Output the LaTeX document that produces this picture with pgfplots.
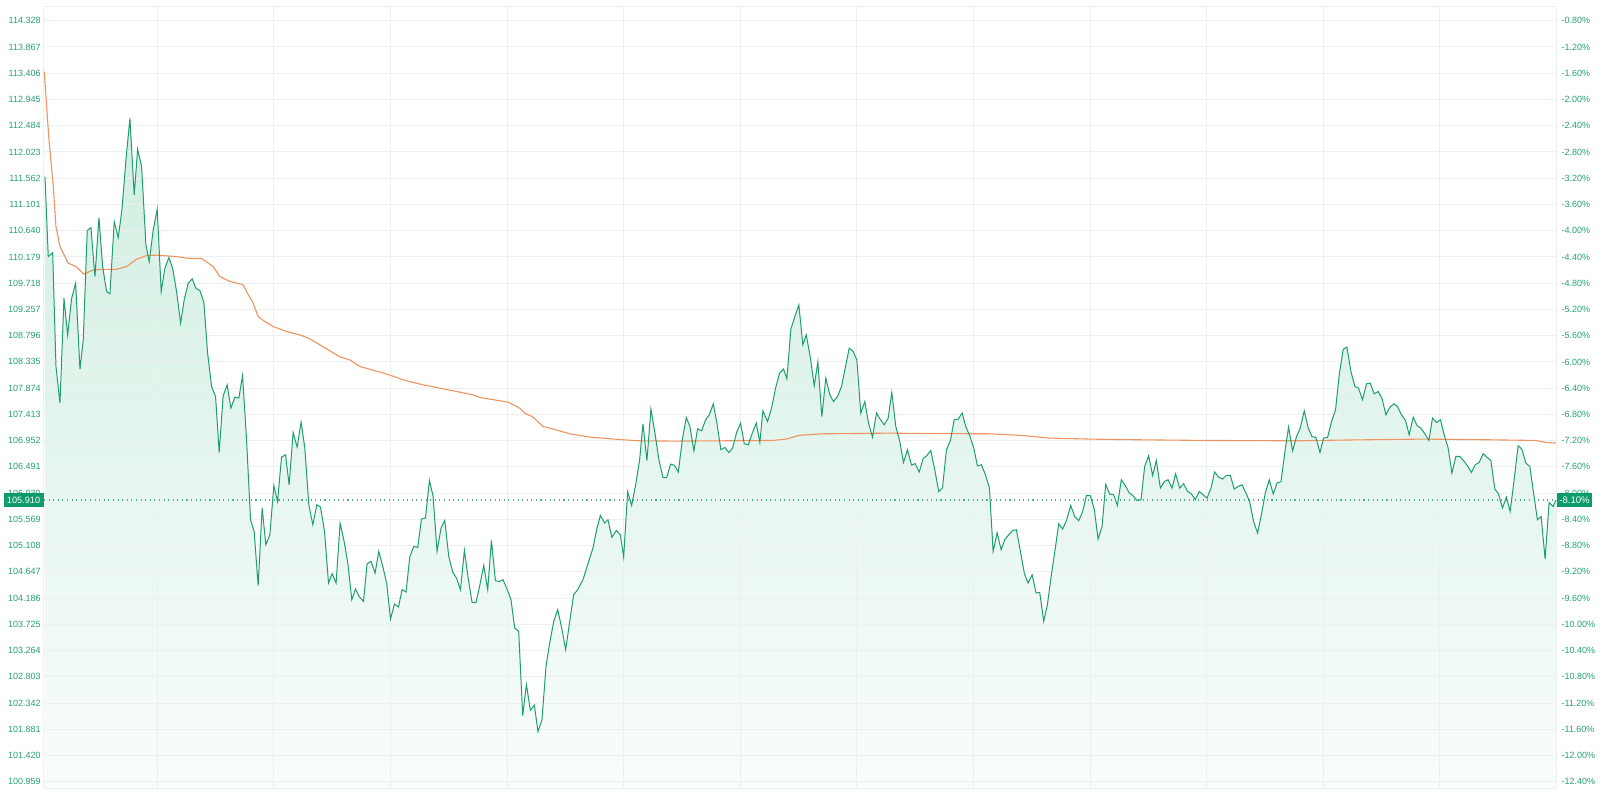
\documentclass[border=0pt]{standalone}
\usepackage{fontspec}
\setmainfont{Liberation Sans}
\usepackage{pgfplots}
\pgfplotsset{compat=1.18}
\usepackage{pgfplotstable}
\definecolor{lineg}{RGB}{30,158,110}
\definecolor{labg}{RGB}{38,160,118}
\definecolor{dotg}{RGB}{80,175,140}
\definecolor{boxg}{RGB}{12,155,105}
\definecolor{orng}{RGB}{238,148,98}
\definecolor{gridc}{RGB}{236,240,238}
\definecolor{filltop}{RGB}{208,238,224}
\definecolor{fillbot}{RGB}{249,253,251}

\pgfplotstableread{
x y
45 111.589
48.3 110.185
52.7 110.255
56 108.254
60 107.611
64 109.454
67.7 108.810
71.7 109.454
75.7 109.718
80 108.208
83.3 108.722
87.3 110.641
91 110.694
95 109.834
99 110.869
102.7 110.009
106.7 109.570
110 109.530
114.3 110.799
118.3 110.518
122 111.004
126 111.882
130 112.614
134.3 111.268
137.7 112.070
141.7 111.765
146 110.390
149.3 110.097
153.3 110.653
157.3 111.017
161.3 109.570
165 109.981
169 110.167
172.7 109.981
176.7 109.570
180.7 109.016
184.3 109.425
188.3 109.718
192.3 109.793
196 109.630
200 109.588
204 109.384
207.7 108.489
211.7 107.903
215.7 107.727
219.3 106.744
223.3 107.740
227.3 107.932
231 107.523
235 107.717
239 107.700
242.7 108.096
246.7 106.967
250.7 105.562
254.3 105.357
258.3 104.404
262.3 105.768
266 105.124
270 105.299
274 106.159
277.7 105.884
281.7 106.663
285.7 106.704
289.3 106.177
293.3 107.095
297.3 106.839
301.3 107.278
305 106.821
309 105.826
313 105.475
317 105.826
320.7 105.785
324.7 105.357
328.7 104.451
332.3 104.615
336.3 104.451
340.3 105.504
344 105.211
348 104.802
352 104.158
355.7 104.346
359.7 104.205
363.7 104.128
367.3 104.790
371.3 104.830
375.3 104.627
379 105.006
383 104.743
387 104.439
390.7 103.819
394.7 104.083
398.7 104.030
402.3 104.334
406.3 104.293
410 104.908
414 105.094
418 105.076
421.7 105.575
425.7 105.592
429.7 106.252
433.3 105.979
437.3 105.006
441.3 105.417
445 105.550
449 104.918
453 104.644
456.7 104.539
460.7 104.334
464.7 105.024
468.3 104.557
472.3 104.111
476.3 104.111
480 104.404
484 104.760
488 104.334
491.7 105.199
495.7 104.492
499.7 104.479
503.3 104.509
507.3 104.346
511.3 104.158
515 103.661
519 103.602
523 102.122
526.7 102.666
530.7 102.215
534.7 102.303
538.3 101.840
542.3 102.051
546.3 102.987
550 103.398
554 103.772
558 103.982
562 103.666
566 103.280
570 103.772
574 104.246
578 104.334
583.3 104.509
588 104.772
593.3 105.066
597 105.387
600.7 105.638
605 105.504
608.3 105.562
612.3 105.252
616.7 105.375
620.7 105.299
624 104.908
628 106.054
632 105.813
636 106.177
640 106.616
643.3 107.248
647.3 106.603
651.3 107.506
655.3 107.084
659.3 106.616
663.3 106.305
667 106.302
671 106.540
675 106.516
678.7 106.400
682.7 106.967
686.7 107.358
690.3 107.200
694.3 106.774
698 107.160
702 107.125
706 107.318
709.7 107.406
713.7 107.599
717.3 107.260
721.3 106.792
725.3 106.833
729.3 106.744
733 106.821
737 107.095
741 107.260
744.7 106.897
748.7 106.879
752.7 107.084
756.7 107.260
760.3 106.919
763.3 107.476
768 107.288
772 107.523
776 107.874
780 108.138
784 108.208
787.3 108.038
791.3 108.910
795.3 109.131
799.3 109.337
803.3 108.635
806.7 108.810
810.7 108.424
814.7 107.915
818.3 108.336
822.3 107.376
826.3 108.050
830.3 107.757
834 107.639
838 107.727
842 107.903
845.7 108.226
849.7 108.577
853.7 108.517
857.3 108.371
861.3 107.436
865.3 107.639
869 107.260
873 107.014
877 107.436
880.7 107.330
884.7 107.230
888.7 107.348
892.3 107.798
896.3 107.200
900.3 106.937
904 106.568
908 106.792
912 106.524
915.7 106.547
919.7 106.400
923.7 106.639
927.3 106.686
931.3 106.780
935.3 106.440
939.3 106.054
943 106.119
947 106.792
951 106.955
954.7 107.318
958.7 107.330
962.7 107.436
966.3 107.200
970.3 107.037
974.3 106.821
978 106.510
982 106.528
986 106.352
990 106.119
993.7 105.006
997.7 105.334
1001.7 105.036
1005.3 105.211
1009.3 105.299
1013.3 105.375
1017 105.387
1021 105.006
1025 104.616
1028.7 104.451
1032.7 104.596
1036.7 104.276
1040.3 104.287
1044.3 103.780
1048 104.070
1052 104.597
1056 105.071
1059.3 105.492
1063.3 105.399
1067.3 105.562
1071.3 105.813
1075.3 105.620
1079.3 105.545
1083.3 105.708
1087 105.989
1091 105.984
1095 105.738
1098.7 105.224
1102.7 105.445
1106.3 106.182
1110.3 106.014
1114.3 106.002
1118 105.813
1122 106.265
1126 106.159
1130 106.031
1133.7 105.984
1137.7 105.901
1141.7 105.914
1145.3 106.498
1149.3 106.686
1153.3 106.340
1157 106.603
1161 106.119
1165 106.235
1168.7 106.265
1172.7 106.119
1176.3 106.370
1180.3 106.119
1184.3 106.194
1188.3 106.059
1192 106.019
1196 105.914
1200 106.059
1203.7 106.002
1207.7 105.943
1211.7 106.119
1215.3 106.400
1219.3 106.312
1223.3 106.277
1227 106.340
1231 106.340
1235 106.101
1238.7 106.147
1242.7 106.177
1246.7 106.031
1250.3 105.884
1254.3 105.533
1258.3 105.329
1262.3 105.668
1266 106.031
1270 106.265
1274 106.014
1277.7 106.207
1281.7 106.235
1285.7 106.761
1289.3 107.190
1293.3 106.774
1297.3 107.025
1301 107.172
1305 107.476
1309 107.172
1312.7 107.025
1316.7 107.007
1320.7 106.744
1324.3 106.997
1328.3 107.007
1332.3 107.288
1336.3 107.493
1340 108.108
1344 108.559
1347.7 108.594
1351.7 108.166
1355.7 107.903
1359.3 107.874
1363.3 107.669
1367.3 107.950
1371 107.962
1375 107.774
1379 107.815
1382.7 107.699
1386.7 107.406
1390.7 107.541
1394.7 107.599
1398.3 107.551
1402.3 107.406
1406.3 107.306
1410 107.055
1414 107.365
1418 107.213
1421.7 107.172
1425.7 107.072
1429.7 106.955
1433.3 107.348
1437.3 107.271
1441.3 107.318
1445 107.055
1449 106.821
1452.7 106.382
1456.7 106.674
1460.7 106.674
1464.3 106.603
1468.3 106.510
1472.3 106.393
1476 106.528
1480 106.568
1484 106.721
1487.7 106.663
1491.7 106.603
1495.7 106.101
1499.3 106.019
1503.3 105.768
1507.3 105.961
1511 105.708
1515 106.265
1519 106.862
1522.7 106.804
1526.7 106.558
1530.7 106.498
1534.3 106.050
1538.3 105.562
1542 105.620
1546 104.872
1550 105.866
1554 105.796
1557 105.910
}\greendata

\pgfplotstableread{
x y
44.3 113.432
49 112.233
53.3 111.426
56 110.711
60 110.360
68.3 110.069
76 110.009
84 109.876
91.7 109.938
100 109.961
116.7 109.961
126.7 110.009
136.7 110.139
146.7 110.203
156.7 110.210
176.7 110.185
186.7 110.157
201.7 110.150
213.3 110.009
220 109.834
230 109.748
243.3 109.690
246.7 109.570
253.3 109.367
258.3 109.131
265 109.044
273.3 108.956
286.7 108.869
300 108.810
310 108.740
320 108.635
330 108.530
340 108.424
350 108.371
360 108.254
386.7 108.124
403.3 108.020
423.3 107.932
443.3 107.862
473.3 107.757
480 107.710
508.3 107.629
520 107.523
525 107.436
533.3 107.366
543.3 107.200
550 107.172
570 107.072
590 107.014
623.3 106.967
640 106.949
673.3 106.944
723.3 106.949
773.3 106.955
786.7 106.980
800 107.046
823.3 107.072
856.7 107.077
890 107.084
923.3 107.077
990 107.072
1023.3 107.042
1050 106.997
1090 106.979
1140 106.967
1206.7 106.955
1300 106.949
1340 106.961
1423.3 106.979
1490 106.967
1536.7 106.955
1546.7 106.920
1556.7 106.909
}\orangedata

\begin{document}
\begin{tikzpicture}
\begin{axis}[
  set layers,
  scale only axis, width=756.5pt, height=391pt,
  xmin=44, xmax=1557, ymin=100.841, ymax=114.569,
  xtick={157.3,274,390.7,507.3,624,740.7,857.3,974,1090.7,1207.3,1324,1440.7},
  xticklabels={},
  xticklabel style={overlay},
  ytick={100.959,101.420,101.881,102.342,102.803,103.264,103.725,104.186,104.647,105.108,105.569,106.030,106.491,106.952,107.413,107.874,108.335,108.796,109.257,109.718,110.179,110.640,111.101,111.562,112.023,112.484,112.945,113.406,113.867,114.328},
  yticklabels={100.959,101.420,101.881,102.342,102.803,103.264,103.725,104.186,104.647,105.108,105.569,106.030,106.491,106.952,107.413,107.874,108.335,108.796,109.257,109.718,110.179,110.640,111.101,111.562,112.023,112.484,112.945,113.406,113.867,114.328},
  grid=major, major grid style={draw=gridc, line width=0.5pt},
  major tick length=0pt,
  axis line style={draw=gridc, line width=0.5pt},
  yticklabel style={font=\fontsize{4.5}{5}\selectfont, text=labg, inner xsep=1.5pt, inner ysep=0pt},
  clip=false,
]
\addplot[on layer=axis background, draw=none, top color=filltop, bottom color=fillbot]
  table[x=x,y=y]{\greendata} |- (axis cs:45,100.841) -- cycle;
\addplot[dotg, line width=0.55pt, dash pattern=on 0.55pt off 1.75pt] coordinates {(44,105.91) (1557,105.91)};
\addplot[orng, line width=0.55pt] table[x=x,y=y]{\orangedata};
\addplot[lineg, line width=0.5pt] table[x=x,y=y]{\greendata};
\node[fill=boxg, text=white, anchor=east, minimum width=20pt, minimum height=7pt, inner sep=0pt, font=\fontsize{4.6}{5}\selectfont] at (axis cs:44,105.91) {105.910};
\node[fill=boxg, text=white, anchor=west, minimum width=18pt, minimum height=7pt, inner sep=0pt, font=\fontsize{4.8}{5}\selectfont] at (axis cs:1557,105.91) {-8.10\%};
\end{axis}
\begin{axis}[
  set layers,
  scale only axis, width=756.5pt, height=391pt,
  xmin=44, xmax=1557, ymin=-12.502, ymax=-0.591,
  axis y line*=right, axis x line*=bottom, xtick=\empty,
  ytick={-12.4,-12.0,-11.6,-11.2,-10.8,-10.4,-10.0,-9.6,-9.2,-8.8,-8.4,-8.0,-7.6,-7.2,-6.8,-6.4,-6.0,-5.6,-5.2,-4.8,-4.4,-4.0,-3.6,-3.2,-2.8,-2.4,-2.0,-1.6,-1.2,-0.8},
  yticklabels={-12.40\%,-12.00\%,-11.60\%,-11.20\%,-10.80\%,-10.40\%,-10.00\%,-9.60\%,-9.20\%,-8.80\%,-8.40\%,-8.00\%,-7.60\%,-7.20\%,-6.80\%,-6.40\%,-6.00\%,-5.60\%,-5.20\%,-4.80\%,-4.40\%,-4.00\%,-3.60\%,-3.20\%,-2.80\%,-2.40\%,-2.00\%,-1.60\%,-1.20\%,-0.80\%},
  major tick length=0pt,
  axis line style={draw=gridc, line width=0.5pt},
  yticklabel style={font=\fontsize{4.5}{5}\selectfont, text=labg, inner xsep=2.5pt, inner ysep=0pt},
]
\addplot[draw=none] coordinates {(44,-5) (1557,-5)};
\end{axis}
\path (-22pt,-1pt) rectangle (778pt,394.5pt);
\end{tikzpicture}
\end{document}
